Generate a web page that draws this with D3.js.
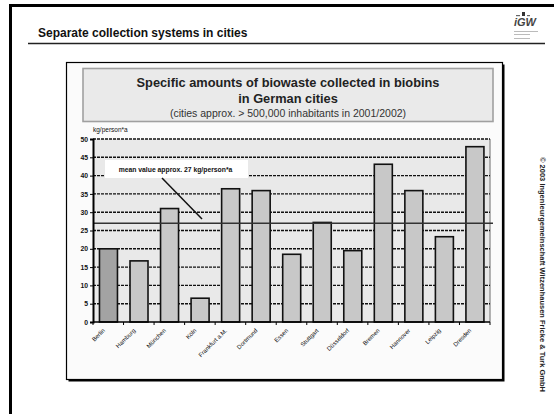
<!DOCTYPE html>
<html><head><meta charset="utf-8">
<script src="https://cdn.jsdelivr.net/npm/d3@7/dist/d3.min.js"></script>
<style>body{margin:0;background:#fff}svg{display:block}text{font-family:"Liberation Sans",Arial,sans-serif}</style>
</head><body>
<script>
const cities = ["Berlin","Hamburg","München","Köln","Frankfurt a.M.","Dortmund","Essen","Stuttgart","Düsseldorf","Bremen","Hannover","Leipzig","Dresden"];
const values = [20.0,16.7,31.0,6.5,36.4,35.9,18.5,27.2,19.5,43.1,35.9,23.3,47.9];
const yTicks = [0,5,10,15,20,25,30,35,40,45,50];
const meanValue = 27;
const slideTitle = "Separate collection systems in cities";
const titleLines = ["Specific amounts of biowaste collected in biobins","in German cities"];
const subtitle = "(cities approx. > 500,000 inhabitants in 2001/2002)";
const unitLabel = "kg/person*a";
const meanLabel = "mean value approx. 27 kg/person*a";
const copyright = "© 2003 Ingenieurgemeinschaft Witzenhausen Fricke & Turk GmbH";

const W=554,H=414;
const svg=d3.select("body").append("svg").attr("width",W).attr("height",H);
svg.append("rect").attr("width",W).attr("height",H).attr("fill","#fff");

// slide frame (top & left)
svg.append("line").attr("x1",10.5).attr("x2",10.5).attr("y1",4).attr("y2",H).attr("stroke","#000").attr("stroke-width",3);
svg.append("line").attr("x1",9).attr("x2",W).attr("y1",5.5).attr("y2",5.5).attr("stroke","#000").attr("stroke-width",3);

// slide title
svg.append("text").attr("x",38).attr("y",36.5).attr("font-size",12).attr("font-weight","bold").attr("fill","#111").text(slideTitle);
svg.append("line").attr("x1",28).attr("x2",545).attr("y1",43.5).attr("y2",43.5).attr("stroke","#222").attr("stroke-width",1.5);

// logo
const lg=svg.append("g").attr("transform","translate(514,12)");
lg.append("rect").attr("x",8).attr("y",0).attr("width",3).attr("height",4).attr("fill","#333");
lg.append("rect").attr("x",2).attr("y",3).attr("width",4).attr("height",1.2).attr("fill","#666");
lg.append("rect").attr("x",13).attr("y",3).attr("width",3).attr("height",1.2).attr("fill","#666");
lg.append("text").attr("x",0).attr("y",14).attr("font-size",11).attr("font-weight","bold").attr("font-style","italic").attr("fill","#444").text("iGW");
[19,22,26].forEach((y,i)=>lg.append("rect").attr("x",0).attr("y",y).attr("width",i==0?24:16).attr("height",0.8).attr("fill","#aaa"));

// chart frame with shadow
svg.append("rect").attr("x",68.5).attr("y",64.5).attr("width",436).attr("height",317).attr("fill","#000");
svg.append("rect").attr("x",66.5).attr("y",62.5).attr("width",436).attr("height",317).attr("fill","#fbfbfb").attr("stroke","#000").attr("stroke-width",1.2);

// title box
svg.append("rect").attr("x",83).attr("y",68.5).attr("width",410).attr("height",53).attr("fill","#eaeaea").attr("stroke","#a0a0a0").attr("stroke-width",1.6);
svg.append("text").attr("x",288).attr("y",86.8).attr("text-anchor","middle").attr("font-size",12.8).attr("font-weight","bold").attr("fill","#222").text(titleLines[0]);
svg.append("text").attr("x",288).attr("y",103.3).attr("text-anchor","middle").attr("font-size",12.8).attr("font-weight","bold").attr("fill","#222").text(titleLines[1]);
svg.append("text").attr("x",288).attr("y",116.5).attr("text-anchor","middle").attr("font-size",10.5).attr("fill","#333").text(subtitle);

// plot
const x0=93,x1=490,yTop=139,yBot=322;
const x=d3.scaleBand().domain(cities).range([x0,x1]).padding(0);
const y=d3.scaleLinear().domain([0,50]).range([yBot,yTop]);

svg.append("rect").attr("x",x0).attr("y",yTop).attr("width",x1-x0).attr("height",yBot-yTop).attr("fill","#e9e9e9");
svg.append("line").attr("x1",x1).attr("x2",x1).attr("y1",yTop).attr("y2",yBot).attr("stroke","#9a9a9a").attr("stroke-width",1.5);

// gridlines
svg.append("g").selectAll("line").data(yTicks.filter(d=>d>0)).join("line")
 .attr("x1",x0).attr("x2",x1).attr("y1",d=>y(d)).attr("y2",d=>y(d))
 .attr("stroke","#111").attr("stroke-width",1.4).attr("stroke-dasharray","3,1");

// bars
const bw=18;
svg.append("g").selectAll("rect").data(cities).join("rect")
 .attr("x",d=>x(d)+x.bandwidth()/2-bw/2+0.2).attr("width",bw)
 .attr("y",(d,i)=>y(values[i])).attr("height",(d,i)=>yBot-y(values[i]))
 .attr("fill",(d,i)=>i==0?"#a3a3a3":"#c8c8c8").attr("stroke","#111").attr("stroke-width",1.6);

// mean line
svg.append("line").attr("x1",x0).attr("x2",x1+3).attr("y1",y(meanValue)).attr("y2",y(meanValue)).attr("stroke","#333").attr("stroke-width",1.5);

// annotation
svg.append("rect").attr("x",105).attr("y",160).attr("width",143).attr("height",18).attr("fill","#fff");
svg.append("text").attr("x",175.5).attr("y",171.5).attr("text-anchor","middle").attr("font-size",6.8).attr("font-weight","bold").attr("fill","#111").text(meanLabel);
svg.append("line").attr("x1",162).attr("y1",178).attr("x2",202).attr("y2",219).attr("stroke","#111").attr("stroke-width",1.5);

// y axis
const ya=svg.append("g").attr("transform",`translate(${x0},0)`).call(d3.axisLeft(y).tickValues(yTicks).tickSize(3).tickPadding(2));
ya.select(".domain").attr("stroke","#000").attr("stroke-width",2);
ya.selectAll(".tick line").attr("stroke","#000").attr("stroke-width",1);
ya.selectAll(".tick text").attr("font-size",6.8).attr("font-weight","bold").attr("fill","#111").attr("font-family","Liberation Sans, Arial, sans-serif");

// x axis
svg.append("line").attr("x1",x0).attr("x2",x1).attr("y1",yBot).attr("y2",yBot).attr("stroke","#000").attr("stroke-width",1.6);
const bounds=cities.map(c=>x(c)+x.bandwidth()).concat([x0]);
svg.append("g").selectAll("line").data(bounds).join("line")
 .attr("x1",d=>d).attr("x2",d=>d).attr("y1",yBot).attr("y2",yBot+3).attr("stroke","#000").attr("stroke-width",1);
svg.append("g").selectAll("text").data(cities).join("text")
 .attr("transform",d=>`translate(${x(d)+x.bandwidth()/2-3},${yBot+9}) rotate(-45)`)
 .attr("text-anchor","end").attr("font-size",6).attr("fill","#111").text(d=>d);

svg.append("text").attr("x",93).attr("y",132).attr("font-size",6.5).attr("fill","#111").text(unitLabel);

// copyright
svg.append("text").attr("transform","translate(540,157) rotate(90)").attr("font-size",7.5).attr("font-weight","bold").attr("fill","#222").text(copyright);
</script>
</body></html>
